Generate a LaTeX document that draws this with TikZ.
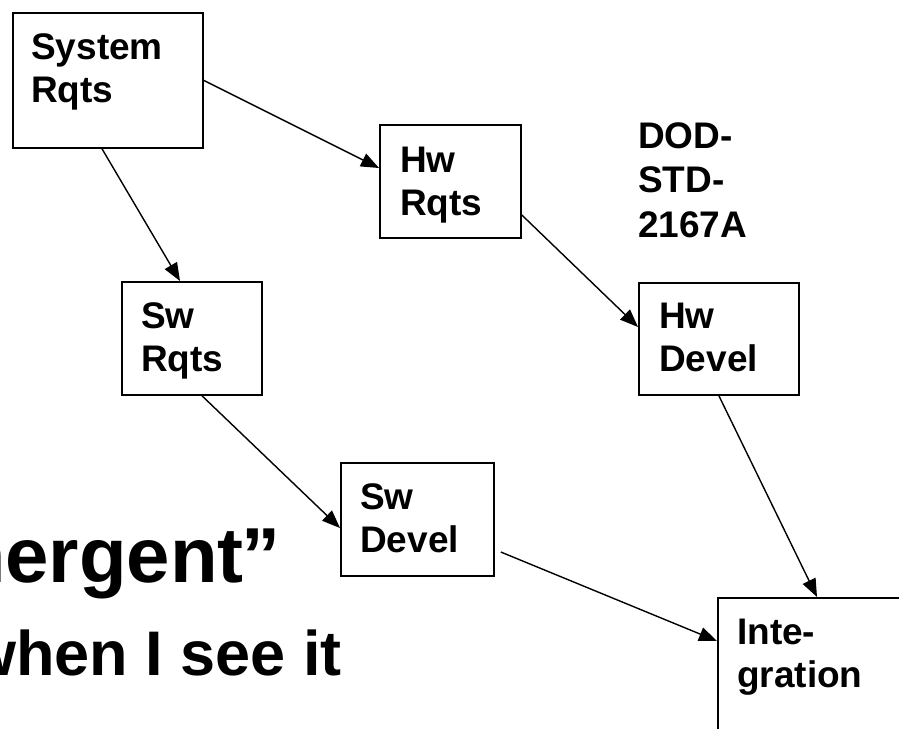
\documentclass[tikz,border=0pt]{standalone}
\usepackage{fontspec}
\setmainfont{Liberation Sans}
\usetikzlibrary{arrows.meta,calc}
\begin{document}
\begin{tikzpicture}[x=1pt,y=-1pt,
  box/.style={draw,line width=1.8pt,inner sep=0pt,anchor=north west},
  lbl/.style={inner sep=0pt,anchor=base west,align=left,font=\fontsize{37}{43}\selectfont\bfseries},
  big/.style={inner sep=0pt,anchor=base east,font=\fontsize{78}{100}\selectfont\bfseries},
  mid/.style={inner sep=0pt,anchor=base east,font=\fontsize{63}{72}\selectfont\bfseries},
  arr/.style={line width=1.4pt,-{Triangle[length=18pt,width=14pt]}}]
\useasboundingbox (0,0) rectangle (899,728);
\clip (0,0) rectangle (899,728);
\fill[white] (0,0) rectangle (899,728);
% boxes
\node[box,minimum width=190pt,minimum height=135pt] (sys) at (12,12) {};
\node[box,minimum width=141pt,minimum height=113pt] (hwr) at (379,124) {};
\node[box,minimum width=140pt,minimum height=113pt] (swr) at (121,281) {};
\node[box,minimum width=153pt,minimum height=113pt] (swd) at (340,462) {};
\node[box,minimum width=160pt,minimum height=112pt] (hwd) at (638,282) {};
\node[box,minimum width=200pt,minimum height=160pt] (int) at (717,597) {};
% labels (anchor at baseline of last line)
\node[lbl] (sysl) at (31,102) {System\\Rqts};
\node[lbl] (hwrl) at (400,215) {Hw\\Rqts};
\node[lbl] (swrl) at (141,371) {Sw\\Rqts};
\node[lbl] (swdl) at (360,552) {Sw\\Devel};
\node[lbl] (hwdl) at (659,371) {Hw\\Devel};
\node[lbl] (intl) at (737,687) {Inte-\\gration};
\node[lbl,font=\fontsize{37}{44.5}\selectfont\bfseries] (dod) at (638,237) {DOD-\\STD-\\2167A};
% big text
\node[big] (emg) at (281,582) {“Emergent\kern-2pt”};
\node[mid] (ikiw) at (342,675) {I’ll know it when I see it};
% connectors
\draw[arr] (sys.east) -- ($(hwr.north west)+(0,44)$);
\draw[arr] ($(sys.south west)+(90,0)$) -- ($(swr.north west)+(59,0)$);
\draw[arr] ($(hwr.north east)+(0,91)$) -- ($(hwd.north west)+(0,45)$);
\draw[arr] ($(swr.south west)+(81,0)$) -- ($(swd.north west)+(0,66)$);
\draw[arr] (hwd.south) -- ($(int.north west)+(100,0)$);
\draw[arr] ($(swd.north east)+(6,90)$) -- ($(int.north west)+(0,44)$);
\end{tikzpicture}
\end{document}
